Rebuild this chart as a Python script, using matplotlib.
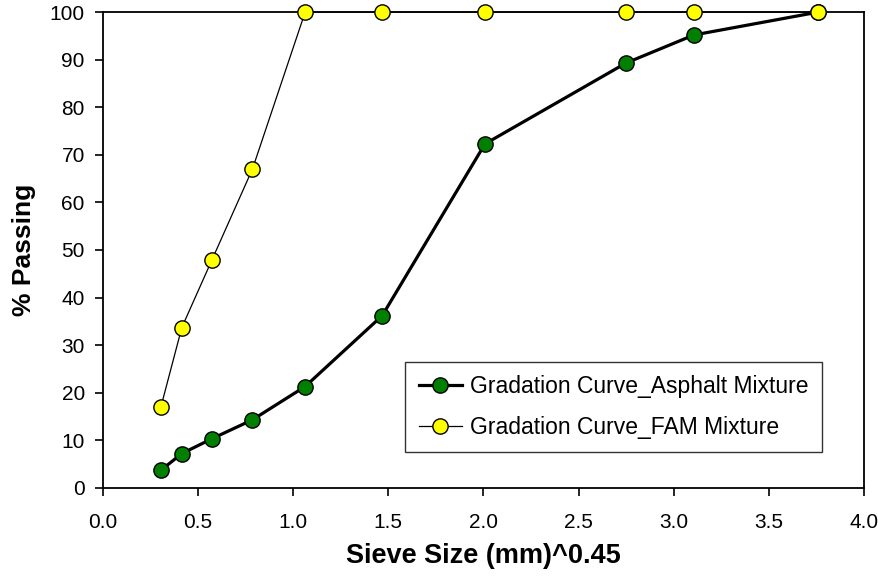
import matplotlib.pyplot as plt

plt.rcParams['font.family'] = ['Liberation Sans', 'DejaVu Sans']

# sieve size (mm)^0.45
sieve = [0.305, 0.415, 0.572, 0.786, 1.063, 1.468, 2.008, 2.749, 3.106, 3.758]
asphalt = [3.7, 7.2, 10.3, 14.3, 21.3, 36.2, 72.3, 89.3, 95.2, 100]
fam = [17.0, 33.7, 47.8, 67.0, 100, 100, 100, 100, 100, 100]


def main():
    fig = plt.figure(figsize=(8.79, 5.78), dpi=100)
    ax = fig.add_axes([0.117, 0.156, 0.866, 0.823])

    ax.plot(sieve, asphalt, '-o', color='black', lw=2.3, ms=11,
            mfc='#007f00', mec='black', mew=1.0,
            label='Gradation Curve_Asphalt Mixture', zorder=3, clip_on=False)
    ax.plot(sieve, fam, '-o', color='black', lw=0.9, ms=11,
            mfc='#ffff00', mec='black', mew=1.0,
            label='Gradation Curve_FAM Mixture', zorder=4, clip_on=False)

    ax.set_xlim(0, 4.0)
    ax.set_ylim(0, 100)
    ax.set_xticks([i * 0.5 for i in range(9)])
    ax.set_xticklabels(['%.1f' % (i * 0.5) for i in range(9)])
    ax.set_yticks(range(0, 101, 10))
    ax.tick_params(direction='out', length=6, width=1.2, labelsize=15,
                   colors='black')
    ax.tick_params(axis='x', pad=12)
    ax.tick_params(axis='y', pad=7)
    for s in ax.spines.values():
        s.set_linewidth(1.3)

    ax.set_xlabel('Sieve Size (mm)^0.45', fontsize=19.5, fontweight='bold', labelpad=8)
    ax.set_ylabel('% Passing', fontsize=19, fontweight='bold', labelpad=10)

    leg = ax.legend(loc='center', bbox_to_anchor=(0.671, 0.170),
                    fontsize=16.5, frameon=True, fancybox=False,
                    edgecolor='black', borderpad=0.6, labelspacing=0.75,
                    handlelength=1.9, handletextpad=0.35, borderaxespad=0)
    leg.get_frame().set_linewidth(1.0)

    fig.savefig('out.png', dpi=100)


if __name__ == '__main__': main()
